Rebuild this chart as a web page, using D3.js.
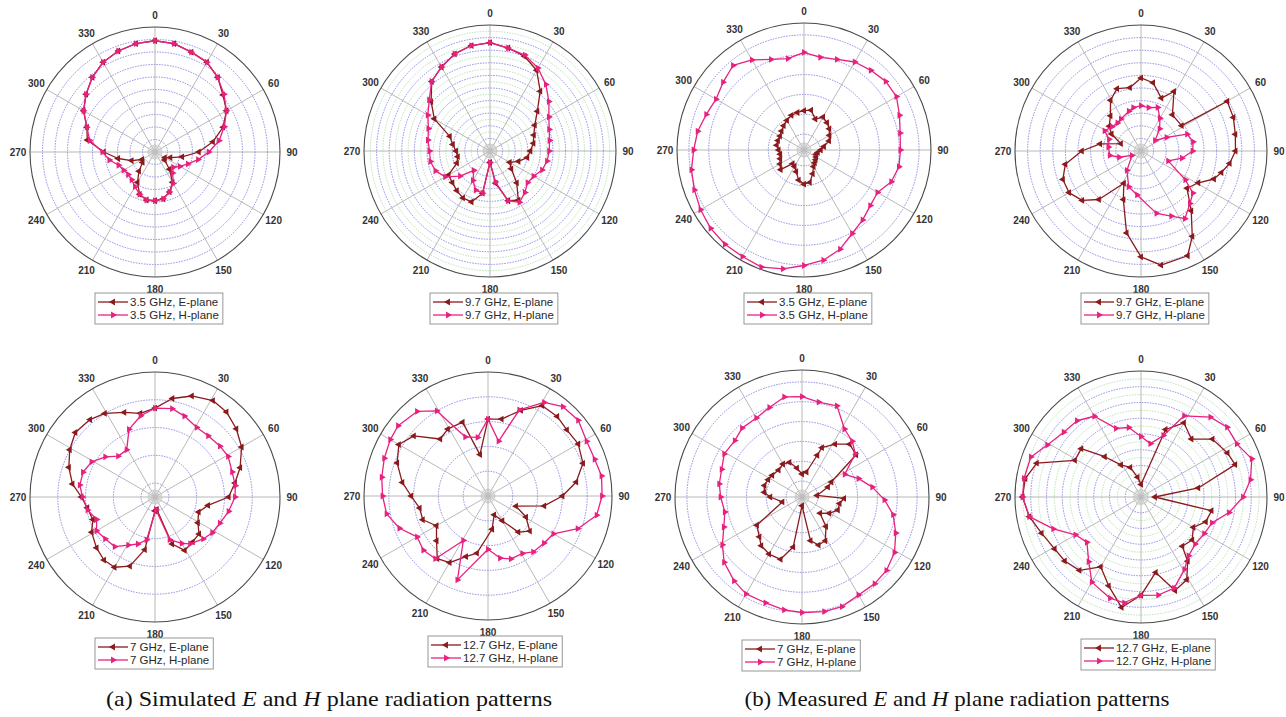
<!DOCTYPE html>
<html>
<head>
<meta charset="utf-8">
<script src="https://cdn.jsdelivr.net/npm/d3@7"></script>
<style>
  body { margin: 0; background: #fff; }
  svg { display: block; }
  .sans { font-family: "Liberation Sans", Arial, sans-serif; }
  .serif { font-family: "Liberation Serif", "Times New Roman", serif; }
</style>
</head>
<body>
<svg id="fig" width="1286" height="717"></svg>
<script>
// Radiation patterns: [angle in degrees clockwise from boresight, gain in dB]

// Simulated, 3.5 GHz
const simE35 = [[0,-5.5],[10,-6],[20,-7.5],[30,-8.5],[40,-11],[50,-14.5],[60,-17],[70,-21],[80,-26.5],[90,-32.5],[100,-39],[110,-43.5],[120,-45.5],[130,-45],[140,-41],[150,-36],[160,-33],[170,-31],[180,-30.5],[190,-30.5],[200,-32],[210,-36],[220,-40],[230,-43.5],[240,-44],[250,-40],[260,-35],[270,-29.5],[280,-22.5],[290,-21],[300,-17],[310,-14],[320,-11],[330,-8.5],[340,-7],[350,-6]];
const simH35 = [[0,-5.5],[10,-6],[20,-7.5],[30,-8.5],[40,-11],[50,-14],[60,-17],[70,-20.5],[80,-24],[90,-28.5],[100,-32.5],[110,-36],[120,-38.5],[130,-40.5],[140,-39],[150,-35.5],[160,-33],[170,-31],[180,-30.5],[190,-30.5],[200,-32],[210,-34],[220,-35.5],[230,-36],[240,-35.5],[250,-34.5],[260,-31.5],[270,-29],[280,-23.5],[290,-21],[300,-17],[310,-14],[320,-11],[330,-8.5],[340,-7],[350,-6]];

// Simulated, 9.7 GHz
const simE97 = [[0,-7],[10,-8.5],[20,-10],[30,-13],[40,-19],[50,-25.5],[60,-29.5],[70,-31.5],[80,-32.5],[90,-34],[100,-35],[110,-38],[120,-41],[130,-39],[140,-33.5],[150,-27.5],[160,-29],[170,-37],[180,-45.5],[190,-33],[200,-28.5],[210,-28.5],[220,-29.5],[230,-30.5],[240,-31],[250,-36],[260,-37],[270,-36.5],[280,-35],[290,-33],[300,-24.5],[310,-19.5],[320,-14],[330,-11.5],[340,-9],[350,-7.5]];
const simH97 = [[0,-7],[10,-8.5],[20,-9.5],[30,-12],[40,-15.5],[50,-19.5],[60,-23],[70,-25],[80,-26],[90,-26.5],[100,-27],[110,-28],[120,-30],[130,-30.5],[140,-28.5],[150,-26.5],[160,-29],[170,-37.5],[180,-45.5],[190,-33],[200,-33.5],[210,-36.5],[220,-40],[230,-34.5],[240,-29.5],[250,-27],[260,-26],[270,-26],[280,-25],[290,-24],[300,-21.5],[310,-18.5],[320,-14],[330,-11.5],[340,-9],[350,-7.5]];

// Simulated, 7 GHz
const simE70 = [[0,-13],[10,-9],[20,-6.3],[31,-4.5],[40,-5],[50,-6.8],[60,-9],[71,-12.6],[80,-15.8],[90,-18.5],[99,-25.7],[109,-28.4],[121,-27],[130,-24.3],[140,-23.9],[151,-23],[160,-27],[172,-40.5],[180,-40],[191,-25.7],[200,-18.5],[210,-15.8],[219,-15.8],[229,-17.1],[241,-18.9],[250,-21.2],[261,-20.3],[270,-18.5],[279,-14.9],[289,-12.2],[299,-9.9],[309,-8.1],[320,-8.6],[329,-9.9],[340,-12.6],[350,-14.4]];
const simH70 = [[0,-13],[11,-12.6],[20,-14],[31,-15.8],[41,-15.8],[52,-15.3],[61,-14.9],[72,-15.8],[82,-15.8],[90,-16.2],[101,-18],[112,-19.8],[122,-20.7],[131,-22],[143,-23.9],[150,-25.7],[161,-28.8],[176,-40.5],[191,-29.3],[200,-27],[209,-25.2],[219,-22],[230,-21.6],[240,-20.7],[249,-22.5],[259,-20.3],[270,-18.9],[279,-17.6],[289,-17.6],[299,-18.9],[309,-22],[318,-25.2],[329,-25.2],[339,-18.9],[350,-15.3]];

// Simulated, 12.7 GHz
const simE127 = [[0,-19],[10,-18.5],[21,-13],[31,-7.5],[41,-7.5],[50,-8.5],[60,-8],[71,-9.5],[81,-14],[90,-20],[100,-27],[110,-38],[119,-32.5],[130,-28],[140,-31],[150,-38.5],[162,-42],[173,-36.5],[191,-26.5],[200,-24],[210,-19],[219,-17.5],[229,-22.5],[240,-26],[250,-22],[260,-22],[270,-19],[279,-15],[290,-11],[300,-8.5],[309,-11.5],[320,-20],[329,-18.5],[341,-18.5],[349,-33]];
const simH127 = [[0,-19],[11,-27.5],[20,-13],[31,-6],[40,-3],[50,-2.5],[61,-4.5],[71,-4.5],[80,-3.5],[90,-4],[100,-5.5],[110,-11.5],[120,-19.5],[130,-20.5],[141,-21],[149,-23],[160,-23],[169,-24.5],[180,-28.5],[200,-14],[209,-29.5],[220,-17],[230,-16],[240,-17],[250,-12],[260,-8.5],[270,-7.5],[280,-6.5],[290,-5.5],[300,-4.5],[308,-4],[320,-5.5],[329,-10],[339,-24.5],[350,-26]];

// Measured, 3.5 GHz
const measE35 = [[0,-19.1],[10,-18.8],[20,-20.7],[30,-19.4],[40,-20],[50,-20.7],[60,-21.6],[70,-22.3],[80,-23.9],[90,-24.8],[100,-25.5],[110,-25.8],[120,-25.5],[130,-25.2],[140,-24.8],[150,-24.2],[160,-22.6],[170,-20.7],[180,-20.4],[190,-21.3],[200,-23.2],[210,-24.2],[220,-24.5],[230,-21.3],[240,-22],[250,-22.6],[260,-22.9],[270,-22.6],[280,-22],[290,-22],[300,-22],[310,-21.6],[320,-21],[330,-20.4],[340,-19.7],[350,-19.4]];
const measH35 = [[0,-4.4],[10,-5.3],[20,-4.7],[30,-3.4],[40,-2.8],[50,-2.1],[60,-2.1],[70,-3.4],[80,-4.4],[90,-4.7],[100,-4.7],[110,-5.6],[120,-7.6],[130,-7.2],[140,-6],[150,-4.7],[160,-2.4],[170,-0.8],[180,0.1],[190,1.4],[200,2.4],[210,2],[220,2],[230,1.7],[240,1.1],[250,0.4],[260,-0.2],[270,-1.2],[280,-1.8],[290,-2.8],[300,-3.4],[310,-2.4],[320,-1.2],[330,-2.8],[340,-4.7],[350,-5.6]];

// Measured, 9.7 GHz
const measE97 = [[0,-21],[10,-22.5],[21,-27.5],[29,-23],[41,-31],[58,-31],[60,-10.5],[70,-11],[80,-12],[90,-12.5],[98,-14.5],[105,-17],[111,-19],[119,-24],[129,-26.5],[140,-19],[149,-10.5],[156,-4.5],[170,-4],[180,-8],[190,-17],[200,-29.5],[208,-35.5],[221,-24.5],[230,-19.5],[240,-17],[250,-17],[260,-19.5],[270,-26.5],[280,-33.5],[290,-41.5],[300,-36.5],[308,-34],[319,-31.5],[329,-26.5],[339,-23.5],[350,-24.5]];
const measH97 = [[0,-32],[10,-32.5],[21,-31.5],[30,-35],[40,-38.5],[53,-43],[62,-38.5],[70,-30.5],[80,-29],[90,-29.5],[100,-33.5],[110,-38.5],[123,-29],[129,-23.5],[137,-21.5],[147,-18],[155,-21.5],[166,-24.5],[185,-32.5],[199,-35],[216,-40.5],[244,-46],[254,-41],[262,-37.5],[277,-37],[290,-36.5],[299,-33.5],[310,-35],[320,-35.5],[328,-35],[343,-33.5],[350,-32.5]];

// Measured, 7 GHz
const measE70 = [[0,-23.2],[10,-22.6],[20,-17.8],[22,-15.6],[32,-13.3],[42,-11.1],[52,-11.7],[63,-20.7],[69,-22],[84,-25.2],[92,-18.4],[100,-19.4],[110,-19.4],[121,-21],[132,-22.9],[141,-19.4],[152,-16.5],[161,-16.2],[169,-17.8],[180,-26.8],[190,-16.2],[199,-12.4],[210,-12.4],[220,-13],[227,-14.3],[238,-15.6],[256,-23.9],[270,-21],[277,-19.4],[287,-19.1],[297,-19.4],[306,-19.7],[319,-20],[330,-19.4],[340,-19.7],[350,-21.6]];
const measH70 = [[0,-3.7],[10,-4.7],[21,-4.4],[32,-8.8],[42,-10.1],[51,-11.7],[62,-16.8],[72,-14],[82,-11.1],[92,-8.2],[101,-5.6],[111,-3.7],[121,-1.8],[131,-0.8],[140,-0.5],[150,-0.5],[160,0.4],[169,0.4],[180,0.1],[189,-0.2],[199,-0.8],[210,-0.8],[219,-1.8],[230,-3.4],[239,-5.6],[249,-7.9],[259,-9.2],[270,-8.5],[279,-7.9],[289,-7.6],[299,-6.6],[310,-6.9],[319,-6],[330,-6],[340,-5],[350,-3.4]];

// Measured, 12.7 GHz
const measE127 = [[0,-36],[20,-17.2],[30,-12.8],[41,-15.6],[51,-10.8],[63,-9.2],[71,-8.4],[81,-21.6],[90,-35.6],[101,-17.2],[111,-18],[120,-20.8],[130,-18.8],[140,-19.6],[144,-14.8],[151,-10],[160,-8.4],[169,-15.6],[180,-8.8],[190,-4.4],[200,-10],[210,-14.4],[220,-9.6],[230,-8.4],[239,-8],[250,-6.4],[260,-4],[270,-2.4],[279,-2.8],[288,-5.2],[299,-16],[309,-15.6],[318,-22.8],[328,-28],[340,-30],[350,-33.6]];
const measH127 = [[0,-20.8],[10,-22.8],[20,-19.2],[28,-10.8],[41,-6.4],[51,-4.8],[61,-5.2],[71,-2.8],[81,-4.8],[90,-7.6],[100,-11.6],[110,-16],[120,-16.8],[131,-17.2],[141,-16],[149,-13.2],[160,-9.2],[170,-8.4],[180,-8.8],[189,-6],[197,-6.4],[210,-8.8],[219,-13.6],[230,-17.6],[240,-16],[250,-10.4],[260,-4],[270,-2.4],[279,-2.4],[290,-2.8],[299,-6],[310,-8],[320,-8.4],[330,-10.4],[340,-16.8],[350,-17.6]];

// Angular axis labels (degrees)
const angleTicks = [0, 30, 60, 90, 120, 150, 180, 210, 240, 270, 300, 330];

// Frequencies shown in each legend
const freqLabels = ["3.5 GHz", "9.7 GHz", "7 GHz", "12.7 GHz", "3.5 GHz", "9.7 GHz", "7 GHz", "12.7 GHz"];

// Figure captions
const captions = [
  ["(a) Simulated ", "E", " and ", "H", " plane radiation patterns"],
  ["(b) Measured ", "E", " and ", "H", " plane radiation patterns"]
];

const COLOR_E = "#8a1a1c";
const COLOR_H = "#e8217f";

// Panel layout: centre, radius, radial range and grid rings
const panels = [
  { cx: 155,  cy: 152, R: 125, dom: [-50, 0], major: d3.range(-45, 0, 5), minor: [], E: simE35, H: simH35, label: freqLabels[0] },
  { cx: 490,  cy: 151, R: 126, dom: [-50, 0], major: d3.range(-45, 0, 5), minor: d3.range(-47.5, 0, 5), E: simE97, H: simH97, label: freqLabels[1] },
  { cx: 804,  cy: 150, R: 127, dom: [-29, 3], major: d3.range(-25, 1, 5), minor: [], E: measE35, H: measH35, label: freqLabels[4] },
  { cx: 1141, cy: 151, R: 126, dom: [-50, 0], major: d3.range(-45, 0, 5), minor: [], E: measE97, H: measH97, label: freqLabels[5] },
  { cx: 155,  cy: 497, R: 125, dom: [-45, 0], major: [-40, -30, -20, -10], minor: [], E: simE70, H: simH70, label: freqLabels[2] },
  { cx: 488,  cy: 496, R: 124, dom: [-50, 0], major: [-40, -30, -20, -10], minor: [], E: simE127, H: simH127, label: freqLabels[3] },
  { cx: 802,  cy: 497, R: 127, dom: [-29, 3], major: d3.range(-25, 1, 5), minor: [], E: measE70, H: measH70, label: freqLabels[6] },
  { cx: 1141, cy: 497, R: 126, dom: [-40, 0], major: d3.range(-35, 0, 5), minor: d3.range(-37.5, 0, 5), E: measE127, H: measH127, label: freqLabels[7] }
];

const svg = d3.select("#fig");
const rad = Math.PI / 180;

function drawPanel(p) {
  const g = svg.append("g").attr("transform", `translate(${p.cx},${p.cy})`);
  const r = d3.scaleLinear().domain(p.dom).range([0, p.R]).clamp(true);

  // minor rings (green) and major rings (blue)
  g.selectAll("circle.minor").data(p.minor).join("circle")
    .attr("r", d => r(d)).attr("fill", "none")
    .attr("stroke", "#a6dca6").attr("stroke-width", 0.8).attr("stroke-dasharray", "1.5,1.2");
  g.selectAll("circle.major").data(p.major).join("circle")
    .attr("r", d => r(d)).attr("fill", "none")
    .attr("stroke", "#6f6fdc").attr("stroke-width", 0.8).attr("stroke-dasharray", "1.5,1.2");

  // spokes every 30 degrees
  const spokes = d3.range(0, 360, 30);
  g.selectAll("line.spoke").data(spokes).join("line")
    .attr("x1", 0).attr("y1", 0)
    .attr("x2", d => p.R * Math.sin(d * rad))
    .attr("y2", d => -p.R * Math.cos(d * rad))
    .attr("stroke", "#b0b0b0").attr("stroke-width", 0.9);
  // fine spokes near the pole
  g.selectAll("line.fine").data(d3.range(0, 360, 15)).join("line")
    .attr("x1", 0).attr("y1", 0)
    .attr("x2", d => 7 * Math.sin(d * rad))
    .attr("y2", d => -7 * Math.cos(d * rad))
    .attr("stroke", "#bdbdbd").attr("stroke-width", 0.6);
  g.append("circle").attr("r", 7).attr("fill", "none").attr("stroke", "#c4c4c4").attr("stroke-width", 0.8);

  // outer boundary
  g.append("circle").attr("r", p.R).attr("fill", "none").attr("stroke", "#4a4a4a").attr("stroke-width", 1.1);

  // angular labels
  g.selectAll("text.ang").data(angleTicks).join("text")
    .attr("class", "sans")
    .attr("x", d => (p.R + 12) * Math.sin(d * rad))
    .attr("y", d => -(p.R + 12) * Math.cos(d * rad))
    .attr("text-anchor", "middle").attr("dominant-baseline", "central")
    .attr("font-size", 10).attr("font-weight", "bold").attr("fill", "#333")
    .text(d => d);

  const line = d3.lineRadial()
    .angle(d => d[0] * rad)
    .radius(d => r(d[1]))
    .curve(d3.curveLinearClosed);

  const series = [
    { data: p.E, color: COLOR_E, rot: -90 },
    { data: p.H, color: COLOR_H, rot: 90 }
  ];
  const tri = d3.symbol().type(d3.symbolTriangle).size(20);

  series.forEach(s => {
    g.append("path").attr("d", line(s.data)).attr("fill", "none")
      .attr("stroke", s.color).attr("stroke-width", 1.3).attr("stroke-linejoin", "round");
    g.selectAll(null).data(s.data).join("path")
      .attr("d", tri)
      .attr("transform", d => {
        const rr = r(d[1]);
        return `translate(${rr * Math.sin(d[0] * rad)},${-rr * Math.cos(d[0] * rad)}) rotate(${s.rot})`;
      })
      .attr("fill", s.color);
  });

  // legend
  const lg = svg.append("g");
  const top = p.cy + p.R + 16;
  const left = p.cx - 60;
  const box = lg.append("rect").attr("x", left).attr("y", top).attr("height", 31)
    .attr("fill", "#fff").attr("stroke", "#8c8c8c").attr("stroke-width", 0.9);
  let maxW = 0;
  series.forEach((s, i) => {
    const y = top + 9 + i * 13;
    lg.append("line").attr("x1", left + 3).attr("x2", left + 33).attr("y1", y).attr("y2", y)
      .attr("stroke", s.color).attr("stroke-width", 1.3);
    lg.append("path").attr("d", tri).attr("fill", s.color)
      .attr("transform", `translate(${left + 18},${y}) rotate(${s.rot})`);
    const t = lg.append("text").attr("class", "sans").attr("x", left + 35).attr("y", y)
      .attr("dominant-baseline", "central")
      .attr("font-size", 11.5).attr("fill", "#2a2a2a")
      .text(`${p.label}, ${i === 0 ? "E" : "H"}-plane`);
    maxW = Math.max(maxW, t.node().getComputedTextLength());
  });
  box.attr("width", 35 + maxW + 4);
}

panels.forEach(drawPanel);

// captions, each centred under its pair of columns
const capX = [329, 957];
const capW = [446, 425];
captions.forEach((parts, i) => {
  const t = svg.append("text").attr("class", "serif").attr("x", capX[i]).attr("y", 706)
    .attr("text-anchor", "middle")
    .attr("font-size", 22).attr("fill", "#111")
    .attr("textLength", capW[i]).attr("lengthAdjust", "spacingAndGlyphs");
  parts.forEach((s, j) => {
    t.append("tspan").attr("font-style", (j === 1 || j === 3) ? "italic" : "normal").text(s);
  });
});
</script>
</body>
</html>
